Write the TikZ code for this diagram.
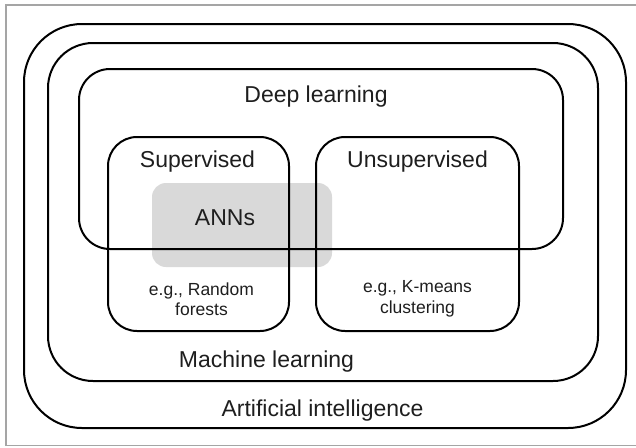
\documentclass[tikz,border=0pt]{standalone}
\usepackage{fontspec}
\setmainfont{Liberation Sans}
\definecolor{annsgray}{RGB}{217, 217, 217}
\definecolor{framegray}{RGB}{165, 165, 165}
\definecolor{labelink}{RGB}{30, 30, 30}
\usetikzlibrary{positioning}

\begin{document}
\begin{tikzpicture}[x=1pt, y=-1pt,
    region/.style={draw=black, line width=2pt},
    biglabel/.style={font=\fontsize{23}{27}\selectfont, text=labelink, anchor=base, inner sep=0pt},
    smalllabel/.style={font=\fontsize{17.5}{20.5}\selectfont, text=labelink, align=center, inner sep=0pt}]
    \useasboundingbox (0,0) rectangle (636,447);

    % Frame
    \draw[framegray, line width=1.2pt] (6,5) rectangle (645,445.5);

    % ANNs patch (behind the set outlines)
    \fill[annsgray, rounded corners=14pt] (152,183) rectangle (332,267);

    % Nested sets
    \draw[region, rounded corners=58pt] (24,24) rectangle (626,428);
    \draw[region, rounded corners=45pt] (48,43) rectangle (598,381);
    \draw[region, rounded corners=31pt] (79,69) rectangle (563,249);
    \draw[region, rounded corners=29pt] (108,137) rectangle (289,331);
    \draw[region, rounded corners=29pt] (316,137) rectangle (519,331);

    % Labels
    \node[biglabel] (deep) at (316,102) {Deep learning};
    \node[biglabel] (sup) at (197.5,167) {Supervised};
    \node[biglabel] (unsup) at (417.5,167) {Unsupervised};
    \node[biglabel] (anns) at (225,225) {ANNs};
    \node[smalllabel] (forest) at (201.5,299) {e.g., Random\\forests};
    \node[smalllabel] (kmeans) at (417.5,299) {e.g., K-means\\clustering};
    \node[biglabel] (ml) at (266.5,367) {Machine learning};
    \node[biglabel] (ai) at (322.5,416) {Artificial intelligence};
\end{tikzpicture}
\end{document}
